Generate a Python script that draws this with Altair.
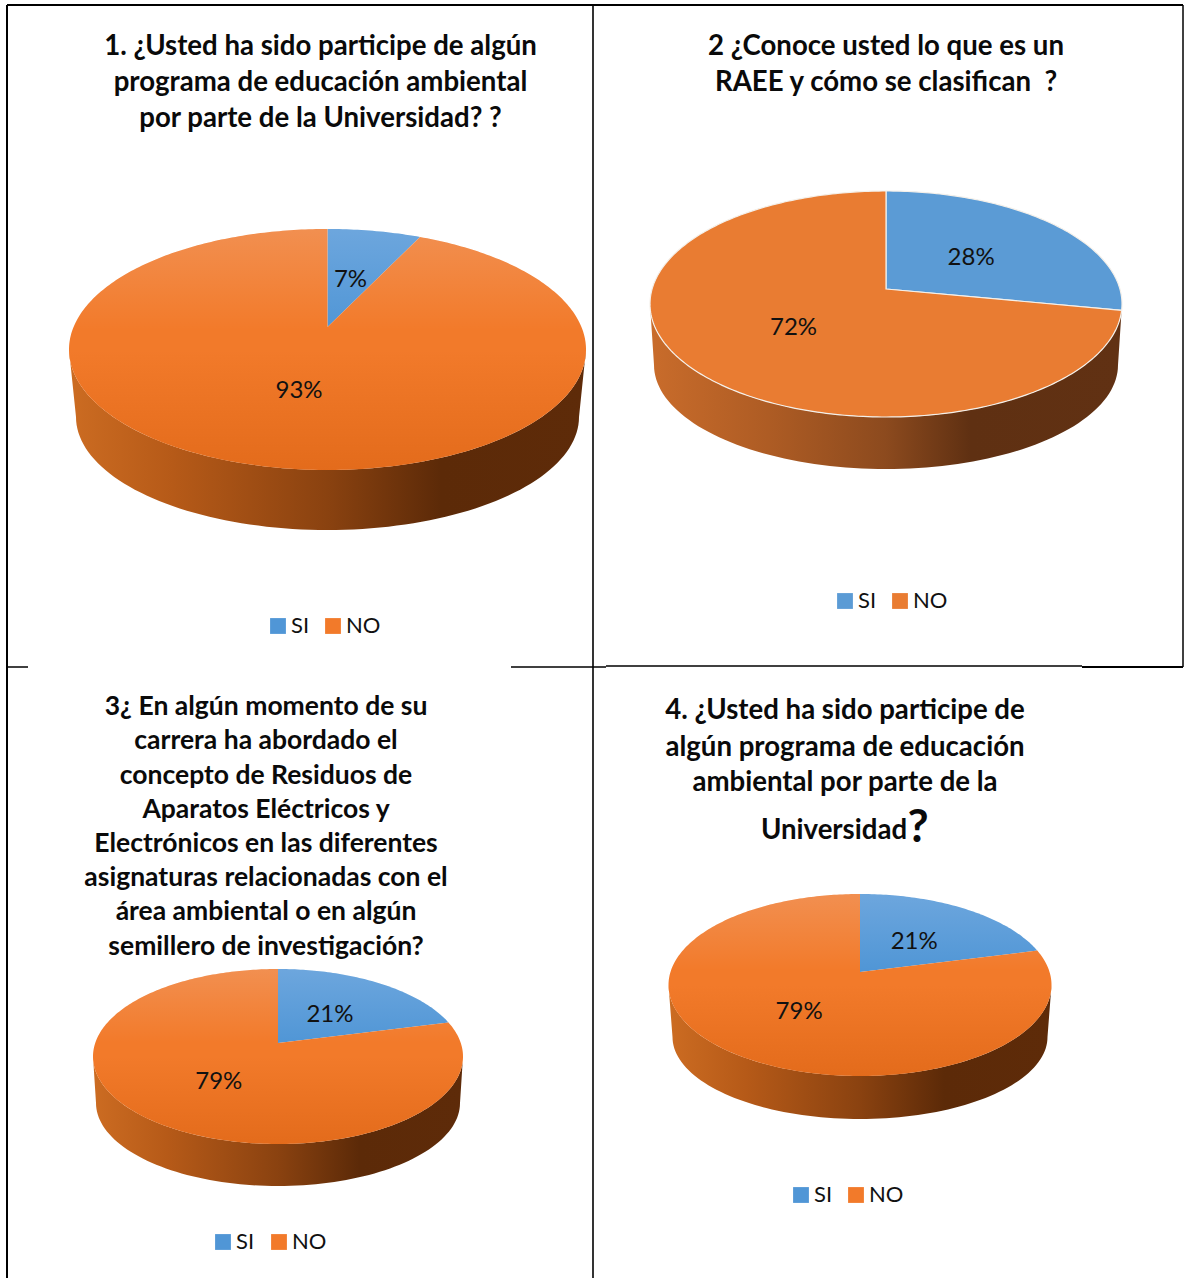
import math
import altair as alt
import pandas as pd

# Survey answers per question, in percent
answers = ["SI", "NO"]
q1_shares = [7, 93]
q2_shares = [28, 72]
q3_shares = [21, 79]
q4_shares = [21, 79]

q1_title = ["1. ¿Usted ha sido participe de algún",
            "programa de educación ambiental",
            "por parte de la Universidad? ?"]
q2_title = ["2 ¿Conoce usted lo que es un",
            "RAEE y cómo se clasifican\u00a0\u00a0?"]
q3_title = ["3¿ En algún momento de su",
            "carrera ha abordado el",
            "concepto de Residuos de",
            "Aparatos Eléctricos y",
            "Electrónicos en las diferentes",
            "asignaturas relacionadas con el",
            "área ambiental o en algún",
            "semillero de investigación?"]
q4_title = ["4. ¿Usted ha sido participe de",
            "algún programa de educación",
            "ambiental por parte de la",
            "Universidad"]

FONT = "Lato"
BLUE = "#5096d6"
ORANGE = "#f27a2a"
BLUE_FLAT = "#5b9bd5"
ORANGE_FLAT = "#e97c32"


def stops(*pairs):
    return [{"offset": o, "color": c} for o, c in pairs]


WALL_GLOSSY = {"gradient": "linear", "x1": 0, "x2": 1, "y1": 0, "y2": 0,
               "stops": stops((0, "#cc6c22"), (0.2, "#b65a18"), (0.5, "#8a4210"),
                              (0.72, "#5c2a08"), (1, "#5e2b09"))}
WALL_FLAT = {"gradient": "linear", "x1": 0, "x2": 1, "y1": 0, "y2": 0,
             "stops": stops((0, "#c96c2b"), (0.25, "#ae5c24"), (0.5, "#8c4a1e"),
                            (0.68, "#5f3012"), (1, "#613113"))}
TOP_SHEEN = {"gradient": "linear", "x1": 0, "x2": 0, "y1": 0, "y2": 1,
             "stops": stops((0, "rgba(240,240,255,0.18)"), (0.42, "rgba(240,240,255,0)"),
                            (0.5, "rgba(200,80,0,0)"), (1, "rgba(200,80,0,0.35)"))}
# All polygons are given in page pixels minus the panel origin
PROJECTION = dict(type="identity", scale=1, translate=[0, 0])


def ring_point(p, t):
    """Perspective view of a point on the pie's rim at clockwise angle t from twelve o'clock."""
    back = p["apex"] - p["top"]
    front = p["bottom"] - p["apex"]
    a = (front - back) / (front + back)
    b = back * (1 + a)
    c = p["rx"] * math.sqrt(1 - a * a)
    u, v = math.sin(t), math.cos(t)
    w = 1 + a * v
    return p["cx"] + c * u / w, p["apex"] - b * v / w


def slice_ring(p, t0, t1):
    n = max(2, int(abs(t1 - t0) / math.radians(1)))
    rim = [ring_point(p, t0 + (t1 - t0) * i / n) for i in range(n + 1)]
    return [[p["cx"], p["apex"]]] + [list(q) for q in rim] + [[p["cx"], p["apex"]]]


def wall_ring(p):
    ey = (p["top"] + p["bottom"]) / 2
    ry = (p["bottom"] - p["top"]) / 2
    upper = [[p["cx"] - p["rx"] * math.cos(math.radians(d)),
              ey + ry * math.sin(math.radians(d))] for d in range(0, 181, 2)]
    ryb = p["wall_bottom"] - p["wall_y"]
    lower = [[p["cx"] - p["wall_rx"] * math.cos(math.radians(d)),
              p["wall_y"] + ryb * math.sin(math.radians(d))] for d in range(180, -1, -2)]
    return upper + lower + [upper[0]]


def ellipse_ring(p):
    ey = (p["top"] + p["bottom"]) / 2
    ry = (p["bottom"] - p["top"]) / 2
    return [[p["cx"] + p["rx"] * math.cos(math.radians(d)),
             ey + ry * math.sin(math.radians(d))] for d in range(0, 361, 2)]


def feature(ring, origin, answer=""):
    local = [[x - origin[0], y - origin[1]] for x, y in ring]
    return {"type": "Feature", "properties": {"answer": answer},
            "geometry": {"type": "Polygon", "coordinates": [local]}}


def panel(shares, title, p):
    ox, oy = p["origin"]
    layers = []

    wall = alt.Chart(alt.Data(values=[feature(wall_ring(p), p["origin"])])).mark_geoshape(
        filled=True, strokeWidth=0, fill=WALL_FLAT if p["flat"] else WALL_GLOSSY
    ).project(**PROJECTION)
    layers.append(wall)

    total = sum(shares)
    cuts, acc = [], 0
    for s in shares:
        cuts.append((acc / total * 2 * math.pi, (acc + s) / total * 2 * math.pi))
        acc += s
    slices = [feature(slice_ring(p, t0, t1), p["origin"], name) for (t0, t1), name in zip(cuts, answers)]
    colors = [BLUE_FLAT, ORANGE_FLAT] if p["flat"] else [BLUE, ORANGE]
    top = alt.Chart(alt.Data(values=slices)).mark_geoshape(
        filled=True, stroke="#f4f0ea" if p["flat"] else "transparent", strokeWidth=1.2 if p["flat"] else 0
    ).encode(
        color=alt.Color(
            "properties.answer:N",
            scale=alt.Scale(domain=answers, range=colors),
            legend=alt.Legend(
                orient="none", direction="horizontal", title=None,
                legendX=p["legend"][0] - ox - 3, legendY=p["legend"][1] - oy - 2,
                symbolType="square", symbolSize=250, symbolStrokeWidth=0,
                labelFont=FONT, labelFontSize=22, labelColor="#111111",
                labelOffset=2, columnPadding=p["legend"][2], padding=0,
            ),
        )
    ).project(**PROJECTION)
    layers.append(top)

    if not p["flat"]:
        sheen = alt.Chart(alt.Data(values=[feature(ellipse_ring(p), p["origin"])])).mark_geoshape(
            filled=True, strokeWidth=0, fill=TOP_SHEEN
        ).project(**PROJECTION)
        layers.append(sheen)

    # Percentage labels sit part-way along each slice's middle ray
    rows = []
    for (t0, t1), s, pull, nudge in zip(cuts, shares, p["pull"], p["nudge"]):
        rx, ry = ring_point(p, (t0 + t1) / 2)
        rows.append({"label": f"{s}%",
                     "px": p["cx"] + (rx - p["cx"]) * pull - ox + nudge,
                     "py": p["apex"] + (ry - p["apex"]) * pull - oy + nudge})
    labels = alt.Chart(pd.DataFrame(rows)).mark_text(
        font=FONT, fontSize=24, color="#111111", baseline="middle", align="center"
    ).encode(x=alt.X("px:Q", scale=None, axis=None), y=alt.Y("py:Q", scale=None, axis=None), text="label:N")
    layers.append(labels)

    heads = pd.DataFrame({"line": title,
                          "px": [x - ox for x in p["title_x"]],
                          "py": [y - oy for y in p["title_y"]]})
    head = alt.Chart(heads).mark_text(
        font=FONT, fontWeight="bold", fontSize=p["title_size"], color="#0a0a0a",
        align="center", baseline="alphabetic"
    ).encode(x=alt.X("px:Q", scale=None, axis=None), y=alt.Y("py:Q", scale=None, axis=None), text="line:N")
    layers.append(head)

    if "big_mark" in p:
        bx, by = p["big_mark"]
        big = alt.Chart(pd.DataFrame({"mark": ["?"], "px": [bx - ox], "py": [by - oy]})).mark_text(
            font=FONT, fontWeight="bold", fontSize=46, color="#0a0a0a",
            align="center", baseline="alphabetic"
        ).encode(x=alt.X("px:Q", scale=None, axis=None), y=alt.Y("py:Q", scale=None, axis=None), text="mark:N")
        layers.append(big)

    # Table grid segments that fall inside this panel: (x, x2, y, y2, stroke width)
    for x, x2, y, y2, w in p["grid"]:
        rule = alt.Chart(pd.DataFrame({"k": [0]})).mark_rule(color="#000000", strokeWidth=w).encode(
            x=alt.value(x - ox), x2=alt.value(x2 - ox), y=alt.value(y - oy), y2=alt.value(y2 - oy))
        layers.append(rule)

    return alt.layer(*layers).properties(width=p["size"][0], height=p["size"][1])


P1 = dict(origin=(0, 0), size=(593, 667), flat=False, cx=327.5, apex=327, top=229, bottom=470, rx=258.5,
          wall_bottom=530, wall_y=417, wall_rx=251.5, pull=[0.49, 0.45], nudge=[0, 2], legend=(270, 617, 12),
          title_x=[320.5] * 3, title_y=[55, 91, 127], title_size=27.6,
          grid=[(7, 7, 5, 667, 2), (7, 593, 5, 5, 2), (593, 593, 5, 667, 1.6),
                (7, 28, 667, 667, 1.5), (511, 593, 667, 667, 1.5)])
P2 = dict(origin=(593, 0), size=(591, 667), flat=True, cx=886, apex=289, top=191, bottom=417, rx=236,
          wall_bottom=469, wall_y=365, wall_rx=232, pull=[0.5, 0.48], nudge=[2, 2], legend=(837, 592, 12),
          title_x=[886, 886], title_y=[55, 91], title_size=27.6,
          grid=[(593, 1183, 5, 5, 2), (1183, 1183, 5, 667, 1.5), (593, 606, 667, 667, 1.5),
                (606, 1082, 666, 666, 1.5), (1082, 1183, 667, 667, 2)])
P3 = dict(origin=(0, 667), size=(593, 611), flat=False, cx=278, apex=1043, top=969, bottom=1144, rx=185,
          wall_bottom=1186, wall_y=1103, wall_rx=182, pull=[0.5, 0.48], nudge=[2, 2], legend=(215, 1233, 13),
          title_x=[266] * 8, title_y=[715, 749, 784, 818, 852, 886, 920, 955], title_size=26.5,
          grid=[(7, 7, 667, 1278, 2), (593, 593, 667, 1278, 1.6)])
P4 = dict(origin=(593, 667), size=(591, 611), flat=False, cx=860, apex=972, top=894, bottom=1076, rx=191.5,
          wall_bottom=1119, wall_y=1037, wall_rx=187.5, pull=[0.5, 0.48], nudge=[2, 2], legend=(793, 1186, 12),
          title_x=[845, 845, 845, 834], title_y=[719, 756, 791, 839], title_size=27.6,
          big_mark=(918, 842), grid=[])

chart = alt.concat(
    panel(q1_shares, q1_title, P1),
    panel(q2_shares, q2_title, P2),
    panel(q3_shares, q3_title, P3),
    panel(q4_shares, q4_title, P4),
    columns=2, spacing=0, bounds="flush",
).resolve_scale(color="independent").properties(
    padding=0, background="#ffffff"
).configure_view(stroke=None)

chart.save("out.html", embed_options={"renderer": "svg", "actions": False})
